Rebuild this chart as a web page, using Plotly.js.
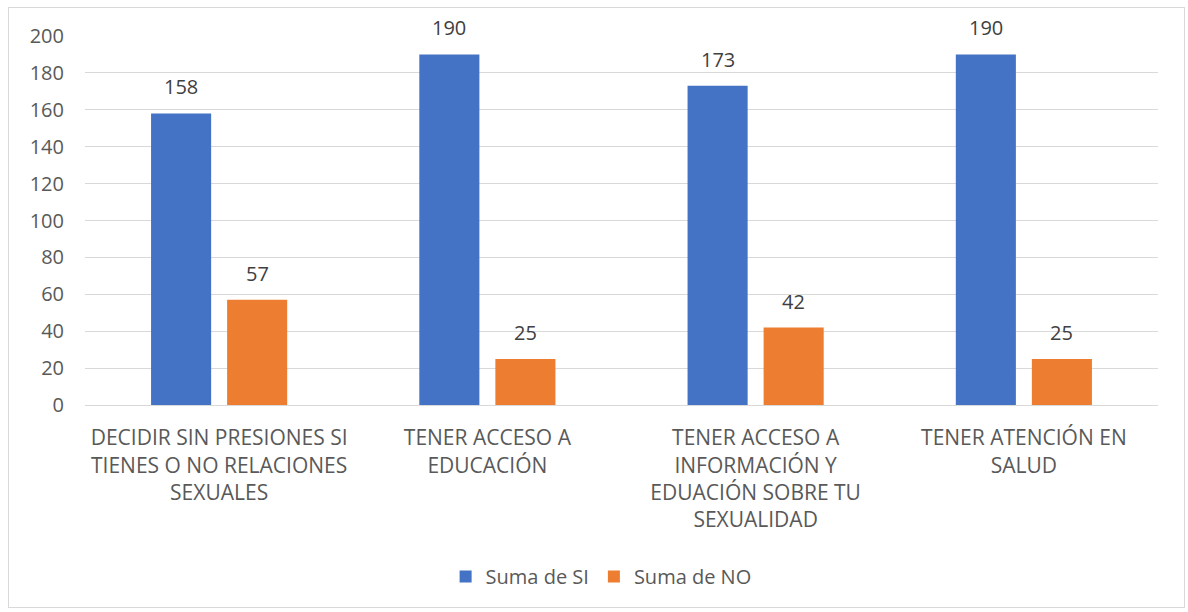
<!DOCTYPE html>
<html>
<head>
<meta charset="utf-8">
<script src="https://cdn.plot.ly/plotly-3.0.1.min.js"></script>
<style>
  html, body { margin: 0; padding: 0; background: #fff; }
  #wrap { position: relative; width: 1188px; height: 612px; }
  #frame { position: absolute; left: 8px; top: 7px; width: 1177px; height: 601px; border: 1px solid #d9d9d9; box-sizing: border-box; pointer-events: none; }
  #chart { position: absolute; left: 0; top: 0; width: 1188px; height: 612px; }
</style>
</head>
<body>
<div id="wrap">
  <div id="chart"></div>
  <div id="frame"></div>
</div>
<script>
const categories = [
  "DECIDIR SIN PRESIONES SI<br>TIENES O NO RELACIONES<br>SEXUALES",
  "TENER ACCESO A<br>EDUCACIÓN",
  "TENER ACCESO A<br>INFORMACIÓN Y<br>EDUACIÓN SOBRE TU<br>SEXUALIDAD",
  "TENER ATENCIÓN EN<br>SALUD"
];
const seriesNames = ["Suma de SI", "Suma de NO"];
const valuesSI = [158, 190, 173, 190];
const valuesNO = [57, 25, 42, 25];
const yTicks = [0, 20, 40, 60, 80, 100, 120, 140, 160, 180, 200];

const font = "'Open Sans', 'Liberation Sans', Arial, sans-serif";
const fs = 20;

const traces = [
  { type: "bar", name: seriesNames[0], x: categories, y: valuesSI,
    marker: { color: "#4472c4" } },
  { type: "bar", name: seriesNames[1], x: categories, y: valuesNO,
    marker: { color: "#ed7d31" } }
];

const annotations = [];
[valuesSI, valuesNO].forEach((vals, si) => {
  vals.forEach((v, i) => {
    annotations.push({
      x: categories[i], y: v, xref: "x", yref: "y", text: String(v), showarrow: false,
      xshift: si === 0 ? -38 : 38, yshift: 11, yanchor: "bottom",
      font: { family: font, size: fs, color: "#404040" }
    });
  });
});

const layout = {
  width: 1188, height: 612,
  margin: { l: 85, r: 30, t: 36, b: 207 },
  paper_bgcolor: "rgba(0,0,0,0)", plot_bgcolor: "#fff",
  font: { family: font, color: "#595959", size: fs },
  barmode: "group", bargap: 0.433, bargroupgap: 0.21,
  showlegend: true,
  legend: { orientation: "h", x: 0.481, xanchor: "center", y: -0.465, yanchor: "middle",
            font: { size: fs, color: "#595959", family: font }, itemwidth: 30, traceorder: "normal" },
  annotations: annotations,
  xaxis: { type: "category", showgrid: false, showline: true, linecolor: "#d9d9d9", linewidth: 1,
           ticks: "", tickfont: { size: 21, color: "#595959", family: font }, ticklabelstandoff: 14,
           tickangle: 0, automargin: false },
  yaxis: { range: [0, 200], tickvals: yTicks, ticktext: yTicks.map(String), showgrid: true,
           gridcolor: "#d9d9d9", gridwidth: 1, zeroline: true, zerolinecolor: "#d9d9d9",
           showline: false, ticks: "", tickfont: { size: fs, color: "#595959", family: font },
           ticklabelstandoff: 20, automargin: false }
};

Plotly.newPlot("chart", traces, layout, { displayModeBar: false, staticPlot: true });
</script>
</body>
</html>
